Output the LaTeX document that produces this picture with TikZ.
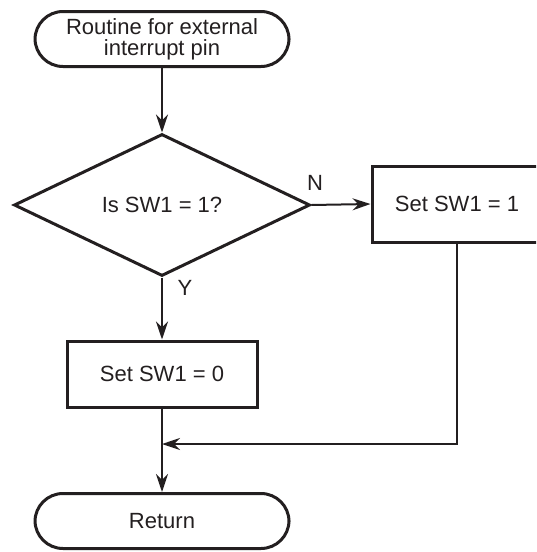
\documentclass[tikz,border=0pt]{standalone}
\usepackage{fontspec}
\setmainfont{Liberation Sans}
\usetikzlibrary{shapes.geometric,arrows.meta}
\definecolor{ink}{RGB}{35,31,32}
\tikzset{>={Stealth[length=18pt,width=12pt,inset=6pt]}}
\tikzset{
  terminal/.style={draw=ink, line width=3pt, rounded corners=28pt,
    minimum width=254pt, minimum height=55pt, inner sep=0pt, align=center},
  process/.style={draw=ink, line width=3pt, inner sep=0pt},
  decision/.style={draw=ink, diamond, line width=3pt,
    minimum width=296pt, minimum height=142pt, inner sep=0pt},
  flow/.style={->, draw=ink, line width=2pt},
}

\begin{document}
\begin{tikzpicture}[x=1pt,y=-1pt,font=\fontsize{22}{21}\selectfont,text=ink]
    \useasboundingbox (0,0) rectangle (536,552);
    \clip (0,0) rectangle (536,552);
    % shapes
    \node[terminal](start) at (162,39) {Routine for external\\interrupt pin};
    \node[decision](decide) at (162,205) {Is SW1 = 1?};
    \node[process, minimum width=170pt, minimum height=76pt](setone) at (457,204) {Set SW1 = 1};
    \node[process, minimum width=190pt, minimum height=66pt](setzero) at (162,374) {Set SW1 = 0};
    \node[terminal](ret) at (162,521) {Return};
    \coordinate (join) at (162,444);
    % connectors
    \draw[flow] (start.south) -- (decide.north);
    \draw[flow] (decide.east) -- (setone.west);
    \draw[flow] (decide.south) -- (setzero.north);
    \draw[flow] (setzero.south) -- (ret.north);
    \draw[flow] (setone.south) |- (join);
    % branch labels
    \node (nlab) at (315,183) {N};
    \node (ylab) at (185,288) {Y};
\end{tikzpicture}
\end{document}
